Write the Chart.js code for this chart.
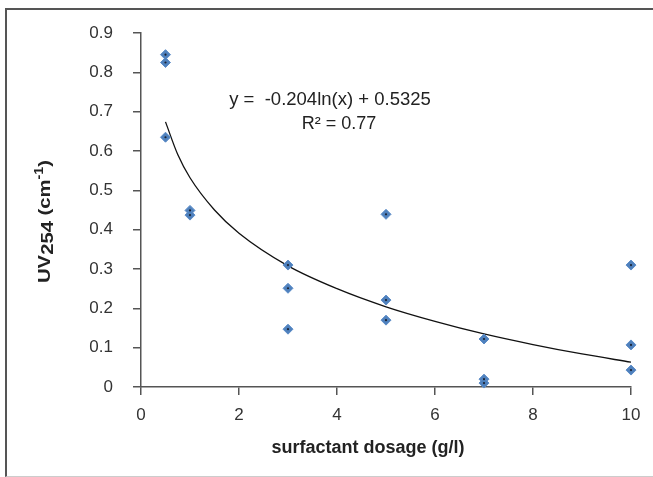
<!DOCTYPE html>
<html>
<head>
<meta charset="utf-8">
<script src="https://cdn.jsdelivr.net/npm/chart.js@4.4.0/dist/chart.umd.min.js"></script>
<style>
  html, body { margin: 0; padding: 0; background: #fff; }
  #wrap { position: relative; width: 653px; height: 477px; overflow: hidden; }
  #frame {
    position: absolute; left: 5px; top: 8px; width: 700px; height: 466px;
    border-left: 2px solid #555; border-top: 2px solid #555; border-bottom: 1px solid #ccc;
  }
  canvas { position: absolute; left: 0; top: 0; }
</style>
</head>
<body>
<div id="wrap">
  <div id="frame"></div>
  <canvas id="chart" width="653" height="477"></canvas>
</div>
<script>
// measured points
const dosage = [0.5, 0.5, 0.5, 1, 1, 3, 3, 3, 5, 5, 5, 7, 7, 7, 10, 10, 10];
const uv254 = [0.845, 0.825, 0.635, 0.449, 0.437, 0.31, 0.251, 0.147, 0.439, 0.221, 0.170, 0.122, 0.020, 0.010, 0.31, 0.107, 0.043];

// trendline
const trendX = [0.5, 0.75, 1, 1.5, 2, 3, 4, 5, 6, 7, 8, 9, 10];
const trendY = [0.674, 0.591, 0.532, 0.450, 0.391, 0.308, 0.250, 0.204, 0.167, 0.135, 0.108, 0.084, 0.063];

const xTicks = [0, 2, 4, 6, 8, 10];
const yTicks = [0, 0.1, 0.2, 0.3, 0.4, 0.5, 0.6, 0.7, 0.8, 0.9];

const equation = "y =  -0.204ln(x) + 0.5325";
const rSquared = "R² = 0.77";
const xTitle = "surfactant dosage (g/l)";

const FONT = "'Liberation Sans', Arial, sans-serif";
const axisColor = "#555";

const points = dosage.map((x, i) => ({ x: x, y: uv254[i] }));
const trend = trendX.map((x, i) => ({ x: x, y: trendY[i] }));

// equation text, x title and rotated y title with sub/superscript
const extras = {
  id: "extras",
  afterDraw(chart) {
    const ctx = chart.ctx;
    ctx.save();
    ctx.fillStyle = "#222";
    ctx.font = "18.5px " + FONT;
    ctx.textAlign = "center";
    ctx.textBaseline = "middle";
    ctx.fillText(equation, 330, 100);
    ctx.font = "18px " + FONT;
    ctx.fillText(rSquared, 339, 124);

    ctx.font = "bold 18px " + FONT;
    ctx.fillText(xTitle, 368, 448);

    // y axis title
    ctx.translate(50, 221.5);
    ctx.rotate(-Math.PI / 2);
    const parts = [
      { t: "UV", f: "bold 17px " + FONT, dy: 0 },
      { t: "254", f: "bold 17px " + FONT, dy: 3 },
      { t: " (cm", f: "bold 17px " + FONT, dy: 0 },
      { t: "-1", f: "bold 12px " + FONT, dy: -7 },
      { t: ")", f: "bold 17px " + FONT, dy: 0 }
    ];
    let total = 0;
    parts.forEach(p => { ctx.font = p.f; p.w = ctx.measureText(p.t).width; total += p.w; });
    ctx.scale(123 / total, 1);
    let x = -total / 2;
    ctx.textAlign = "left";
    ctx.textBaseline = "alphabetic";
    parts.forEach(p => {
      ctx.font = p.f;
      ctx.fillText(p.t, x, p.dy);
      x += p.w;
    });
    ctx.restore();
  }
};

new Chart(document.getElementById("chart"), {
  type: "scatter",
  data: {
    datasets: [
      {
        data: trend,
        showLine: true,
        borderColor: "#111",
        borderWidth: 1.3,
        pointRadius: 0,
        tension: 0.4,
        cubicInterpolationMode: "monotone",
        order: 3
      },
      {
        data: points,
        pointStyle: "rectRot",
        pointRadius: 5,
        backgroundColor: "#4f81bd",
        borderColor: "#5b8bc7",
        borderWidth: 1,
        clip: false,
        order: 2
      },
      {
        data: points,
        pointStyle: "circle",
        pointRadius: 1.1,
        backgroundColor: "#1b2233",
        borderWidth: 0,
        clip: false,
        order: 1
      }
    ]
  },
  options: {
    responsive: false,
    animation: false,
    layout: { padding: { top: 33, right: 22, left: 0, bottom: 0 } },
    plugins: { legend: { display: false }, tooltip: { enabled: false } },
    scales: {
      x: {
        type: "linear",
        min: 0, max: 10,
        afterBuildTicks: s => { s.ticks = xTicks.map(v => ({ value: v })); },
        afterFit: s => { s.height = 90; },
        grid: { display: true, drawOnChartArea: false, drawTicks: true, tickLength: 8, color: axisColor, lineWidth: 1.5 },
        border: { display: true, color: axisColor, width: 1.5 },
        ticks: { color: "#333", font: { family: FONT, size: 17 }, padding: 10 }
      },
      y: {
        type: "linear",
        min: 0, max: 0.9,
        afterBuildTicks: s => { s.ticks = yTicks.map(v => ({ value: v })); },
        afterFit: s => { s.width = 141; },
        grid: { display: true, drawOnChartArea: false, drawTicks: true, tickLength: 8, color: axisColor, lineWidth: 1.5 },
        border: { display: true, color: axisColor, width: 1.5 },
        ticks: {
          color: "#333", font: { family: FONT, size: 17 }, padding: 20,
          callback: v => v === 0 ? "0" : v.toFixed(1)
        }
      }
    }
  },
  plugins: [extras]
});
</script>
</body>
</html>
